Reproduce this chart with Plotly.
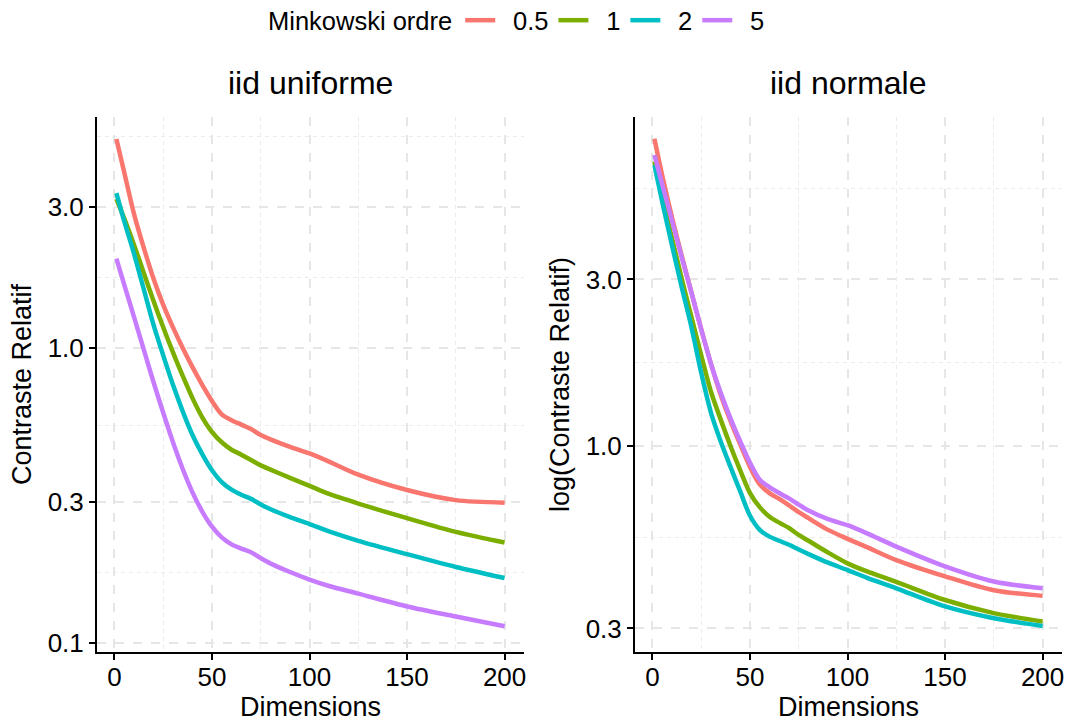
import plotly.graph_objects as go

# Dimensions at which the relative contrast was evaluated
dims = [1, 5, 10, 15, 20, 25, 30, 35, 40, 45, 50, 55, 60, 65, 70, 75, 80,
        90, 100, 110, 125, 150, 175, 200]

orders = ["0.5", "1", "2", "5"]
colors = ["#F8766D", "#7CAE00", "#00BFC4", "#C77CFF"]

# iid uniforme : relative contrast per Minkowski order
unif_p05 = [5.11, 3.94, 2.85, 2.19, 1.72, 1.40, 1.175, 1.0, 0.861, 0.75, 0.661,
            0.596, 0.569, 0.55, 0.531, 0.507, 0.49, 0.462, 0.439, 0.412, 0.372,
            0.33, 0.305, 0.299]
unif_p1 = [3.2, 2.75, 2.24, 1.80, 1.445, 1.175, 0.966, 0.804, 0.676, 0.582, 0.519,
           0.479, 0.452, 0.435, 0.417, 0.4, 0.387, 0.363, 0.341, 0.32, 0.297,
           0.265, 0.238, 0.219]
unif_p2 = [3.35, 2.69, 2.09, 1.585, 1.2, 0.944, 0.75, 0.61, 0.507, 0.437, 0.385,
           0.351, 0.331, 0.318, 0.308, 0.295, 0.284, 0.267, 0.253, 0.239, 0.222,
           0.2, 0.181, 0.166]
unif_p5 = [2.01, 1.64, 1.274, 0.989, 0.767, 0.603, 0.479, 0.389, 0.324, 0.279,
           0.248, 0.228, 0.216, 0.209, 0.203, 0.194, 0.186, 0.174, 0.164, 0.156,
           0.147, 0.133, 0.123, 0.114]

# iid normale : relative contrast per Minkowski order
norm_p05 = [7.59, 5.96, 4.52, 3.51, 2.75, 2.16, 1.72, 1.40, 1.18, 1.01, 0.871,
            0.776, 0.733, 0.705, 0.676, 0.646, 0.621, 0.575, 0.542, 0.513, 0.471,
            0.423, 0.386, 0.372]
norm_p1 = [6.53, 5.19, 3.94, 3.02, 2.34, 1.82, 1.43, 1.19, 1.0, 0.851, 0.733,
           0.668, 0.627, 0.603, 0.582, 0.556, 0.535, 0.495, 0.461, 0.437, 0.408,
           0.362, 0.332, 0.314]
norm_p2 = [6.38, 5.01, 3.76, 2.85, 2.19, 1.62, 1.245, 1.03, 0.871, 0.741, 0.631,
           0.575, 0.55, 0.535, 0.521, 0.505, 0.49, 0.463, 0.441, 0.419, 0.391,
           0.347, 0.321, 0.305]
norm_p5 = [6.82, 5.62, 4.42, 3.47, 2.75, 2.16, 1.72, 1.42, 1.20, 1.03, 0.895,
           0.80, 0.762, 0.733, 0.708, 0.679, 0.653, 0.617, 0.593, 0.562, 0.515,
           0.452, 0.409, 0.391]

unif_series = [unif_p05, unif_p1, unif_p2, unif_p5]
norm_series = [norm_p05, norm_p1, norm_p2, norm_p5]

x_ticks = [0, 50, 100, 150, 200]
x_minor = [25, 75, 125, 175]
unif_ticks = [0.1, 0.3, 1, 3]
unif_ticktext = ["0.1", "0.3", "1.0", "3.0"]
norm_ticks = [0.3, 1, 3]
norm_ticktext = ["0.3", "1.0", "3.0"]
# minor breaks halfway between the major breaks (in log space)
unif_minor = [10 ** -0.7615, 10 ** -0.2615, 10 ** 0.2385, 10 ** 0.716]
norm_minor = [10 ** -0.2615, 10 ** 0.2385, 10 ** 0.739]

FONT = "Liberation Sans, Arial, Helvetica, sans-serif"
W, H = 1070, 722
GAP = "\u2002"  # spacing between legend key and its label

fig = go.Figure()

for name, col, ys in zip(orders, colors, unif_series):
    fig.add_trace(go.Scatter(
        x=dims, y=ys, mode="lines", name=GAP + name, legendgroup=name,
        line=dict(color=col, width=4.5, shape="spline", smoothing=0.8),
        xaxis="x", yaxis="y", showlegend=True))

for name, col, ys in zip(orders, colors, norm_series):
    fig.add_trace(go.Scatter(
        x=dims, y=ys, mode="lines", name=GAP + name, legendgroup=name,
        line=dict(color=col, width=4.5, shape="spline", smoothing=0.8),
        xaxis="x2", yaxis="y2", showlegend=False))

grid_major = dict(showgrid=True, gridcolor="#e6e6e6", gridwidth=2.4,
                  griddash="9px,9px")
minor_style = dict(showgrid=True, gridcolor="#ebebeb", gridwidth=1.2,
                   griddash="4px,4px", ticks="")
axis_common = dict(showline=True, linecolor="black", linewidth=2,
                   ticks="outside", ticklen=6, tickwidth=2, tickcolor="black",
                   tickfont=dict(family=FONT, size=26, color="black"),
                   zeroline=False, mirror=False, automargin=False, **grid_major)

xl = [97 / W, 524 / W]
xr = [635 / W, 1062 / W]
yd = [70 / H, 605 / H]

fig.update_layout(
    width=W, height=H,
    margin=dict(l=0, r=0, t=0, b=0, autoexpand=False),
    paper_bgcolor="white", plot_bgcolor="white",
    font=dict(family=FONT, color="black"),
    xaxis=dict(domain=xl, anchor="y", range=[-8.95, 209.95],
               tickmode="array", tickvals=x_ticks, ticklabelstandoff=-5,
               minor=dict(tickmode="array", tickvals=x_minor, **minor_style),
               title=dict(text="Dimensions", font=dict(size=27), standoff=6),
               **axis_common),
    yaxis=dict(domain=yd, anchor="x", type="log", range=[-1.0305, 0.783],
               tickmode="array", tickvals=unif_ticks, ticktext=unif_ticktext,
               minor=dict(tickmode="array", tickvals=unif_minor, **minor_style),
               title=dict(text="Contraste Relatif", font=dict(size=27), standoff=8),
               **axis_common),
    xaxis2=dict(domain=xr, anchor="y2", range=[-8.95, 209.95],
                tickmode="array", tickvals=x_ticks, ticklabelstandoff=-5,
                minor=dict(tickmode="array", tickvals=x_minor, **minor_style),
                title=dict(text="Dimensions", font=dict(size=27), standoff=6),
                **axis_common),
    yaxis2=dict(domain=yd, anchor="x2", type="log", range=[-0.5903, 0.9427],
                tickmode="array", tickvals=norm_ticks, ticktext=norm_ticktext,
                minor=dict(tickmode="array", tickvals=norm_minor, **minor_style),
                title=dict(text="log(Contraste Relatif)", font=dict(size=27), standoff=8),
                **axis_common),
    legend=dict(orientation="h", x=266 / W, xanchor="left", y=1.004, yanchor="top",
                title=dict(text="Minkowski ordre", font=dict(size=25.5)),
                font=dict(size=25.5), bgcolor="rgba(0,0,0,0)", itemwidth=30),
    annotations=[
        dict(text="iid uniforme", x=(xl[0] + xl[1]) / 2, y=(H - 83) / H,
             xref="paper", yref="paper", showarrow=False,
             font=dict(size=32), xanchor="center", yanchor="middle"),
        dict(text="iid normale", x=(xr[0] + xr[1]) / 2, y=(H - 83) / H,
             xref="paper", yref="paper", showarrow=False,
             font=dict(size=32), xanchor="center", yanchor="middle"),
    ],
)

fig.write_html("out.html")
